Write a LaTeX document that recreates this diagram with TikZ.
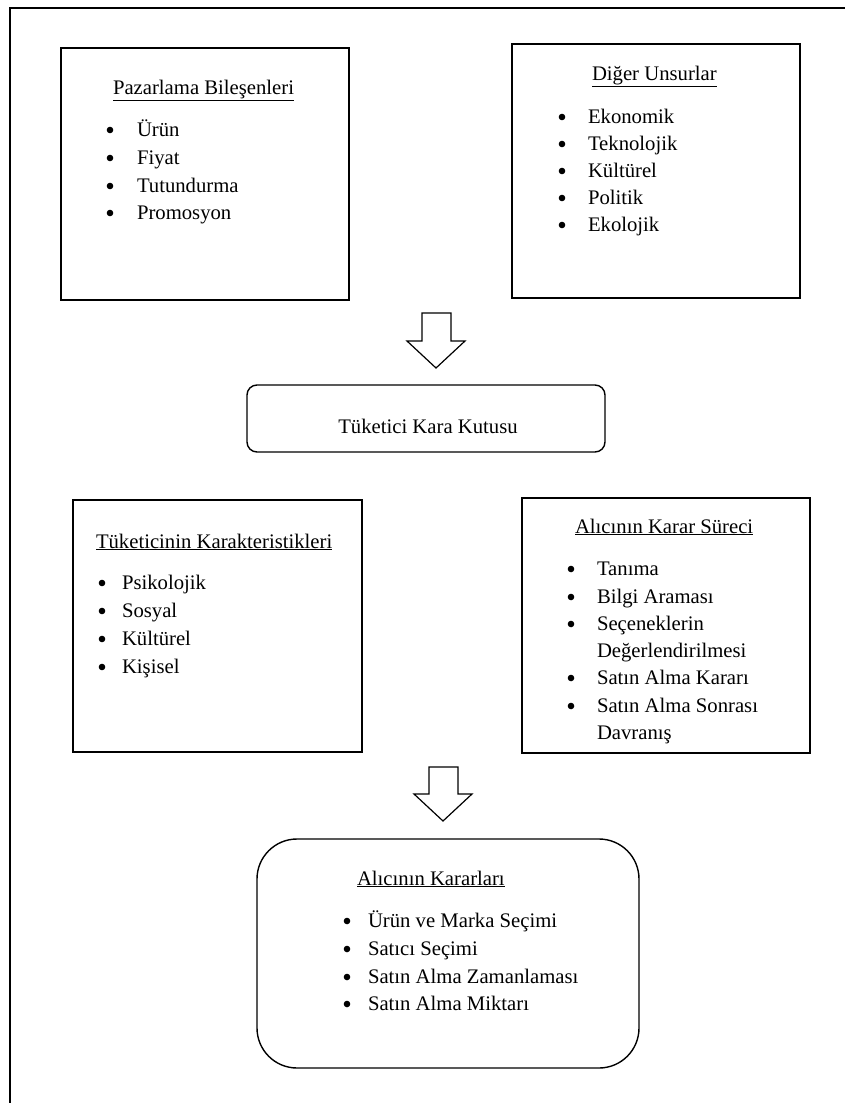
\documentclass[tikz,border=0pt]{standalone}
\usepackage{fontspec}
\setmainfont{Liberation Serif}
\begin{document}
\begin{tikzpicture}[x=1pt,y=-1pt,
  box/.style={draw,line width=1.4pt,inner sep=0pt,outer sep=0pt},
  rbox/.style={box,rounded corners=#1},
  txt/.style={anchor=base west,inner sep=0pt,outer sep=0pt,font=\fontsize{20.7}{27}\selectfont},
  bul/.style={circle,fill=black,inner sep=0pt,minimum size=6.6pt},
  blockarrow/.style={draw,line width=1.2pt,fill=white,line join=miter}]
\useasboundingbox (0,0) rectangle (844,1103);
% outer frame
\draw[line width=1.4pt] (10,1110) -- (10,8) -- (850,8);
% boxes
\node[box,minimum width=288pt,minimum height=252pt] (pb) at (205,174) {};
\node[box,minimum width=288pt,minimum height=254pt] (du) at (656,171) {};
\node[rbox=10pt,minimum width=358pt,minimum height=67pt] (kk) at (426,418.5) {};
\node[box,minimum width=289pt,minimum height=252pt] (tk) at (217.5,626) {};
\node[box,minimum width=288pt,minimum height=255pt] (ks) at (666,625.5) {};
\node[rbox=40pt,minimum width=382pt,minimum height=229pt] (ak) at (448,953.5) {};
% block arrows
\draw[blockarrow] (422,313) -- (451,313) -- (451,341) -- (465,341) -- (436,368) -- (407,341) -- (422,341) -- cycle;
\draw[blockarrow] (429,767) -- (458,767) -- (458,794) -- (472,794) -- (443,821) -- (414,794) -- (429,794) -- cycle;
% Box 1
\node[txt] (pbt) at (113,94) {\underline{Pazarlama Bileşenleri}};
\foreach \t/\y in {Ürün/136,Fiyat/164,Tutundurma/192,Promosyon/219}{
  \node[bul] at (110,\y-6) {};
  \node[txt] at (137,\y) {\t};
}
% Box 2
\node[txt] (dut) at (592,80) {\underline{Diğer Unsurlar}};
\foreach \t/\y in {Ekonomik/123,Teknolojik/150,Kültürel/177,Politik/204,Ekolojik/231}{
  \node[bul] at (562,\y-6) {};
  \node[txt] at (588,\y) {\t};
}
% Kara kutu
\node[txt,anchor=base] (kkt) at (428,433) {Tüketici Kara Kutusu};
% Box 3
\node[txt] (tkt) at (96,548) {\underline{Tüketicinin Karakteristikleri}};
\foreach \t/\y in {Psikolojik/589,Sosyal/617,Kültürel/645,Kişisel/673}{
  \node[bul] at (102,\y-6) {};
  \node[txt] at (122,\y) {\t};
}
% Box 4
\node[txt] (kst) at (575,533) {\underline{Alıcının Karar Süreci}};
\foreach \y in {575,603,630,684,712}{
  \node[bul] at (571,\y-6) {};
}
\node[txt] at (597,575) {Tanıma};
\node[txt] at (597,603) {Bilgi Araması};
\node[txt] at (597,630) {Seçeneklerin};
\node[txt] at (597,657) {Değerlendirilmesi};
\node[txt] at (597,684) {Satın Alma Kararı};
\node[txt] at (597,712) {Satın Alma Sonrası};
\node[txt] at (597,739) {Davranış};
% Box 5
\node[txt] (akt) at (357,885) {\underline{Alıcının Kararları}};
\foreach \t/\y in {Ürün ve Marka Seçimi/927,Satıcı Seçimi/955,Satın Alma Zamanlaması/983,Satın Alma Miktarı/1010}{
  \node[bul] at (347,\y-6) {};
  \node[txt] at (368,\y) {\t};
}
\end{tikzpicture}
\end{document}
